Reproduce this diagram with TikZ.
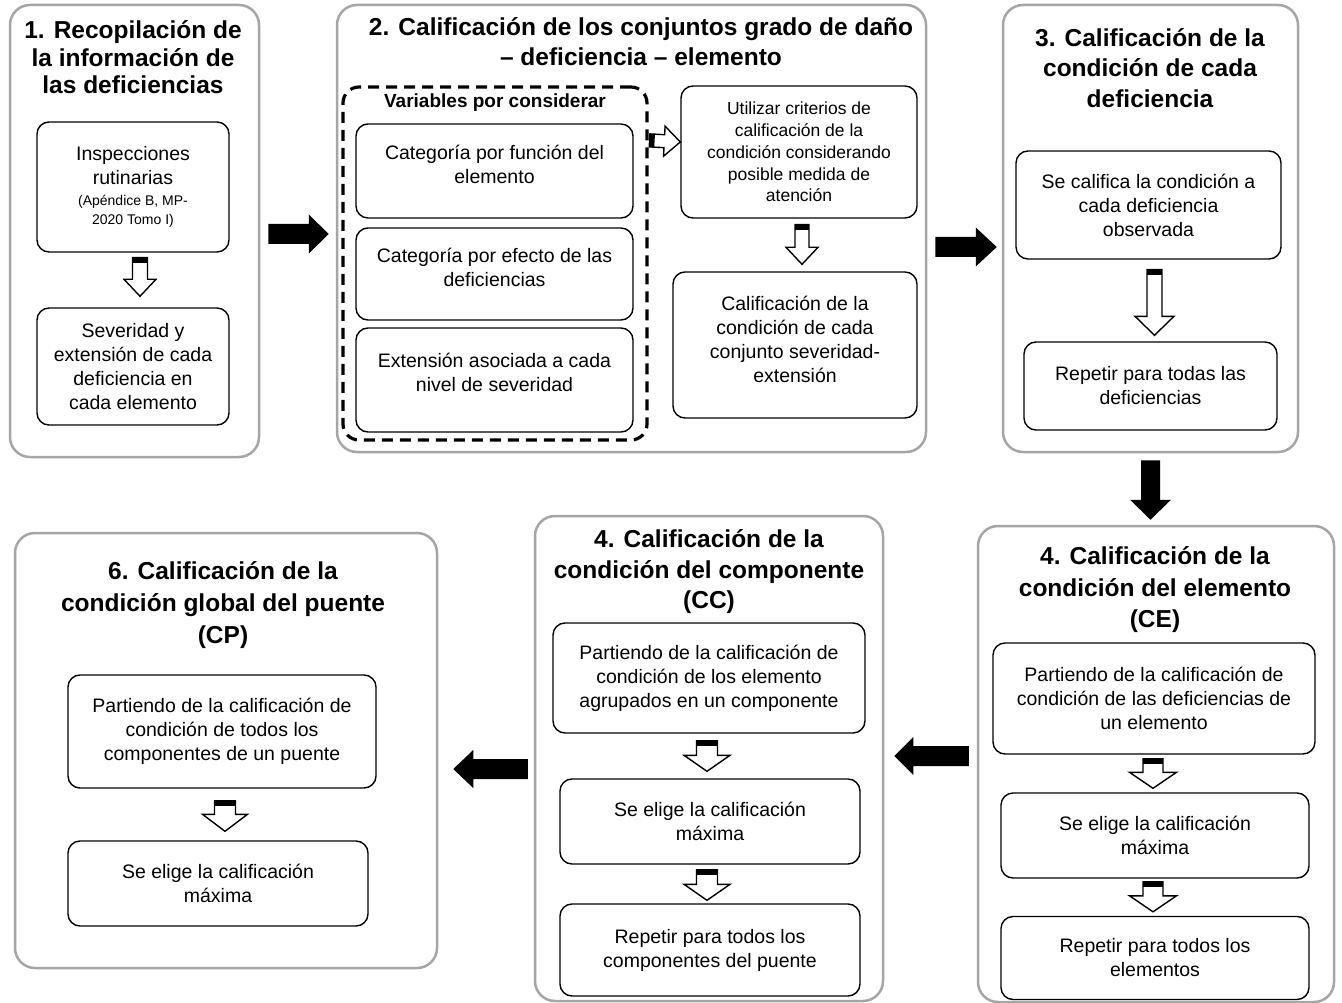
\documentclass[tikz,border=0pt]{standalone}
\usepackage{fontspec}
\setmainfont{Liberation Sans}
\usetikzlibrary{calc}
\newcommand\bodyfont{\fontsize{19.5}{24}\selectfont}
\newcommand\titlefont{\fontsize{24.5}{29}\selectfont\bfseries}
\newcommand\smallfont{\fontsize{14}{18}\selectfont}
\tikzset{
  panel/.style={draw=black!35, line width=2.5pt, rounded corners=20pt, inner sep=0pt},
  box/.style={draw=black, line width=1.4pt, rounded corners=12pt, inner sep=0pt, align=center, font=\bodyfont},
  ttl/.style={align=center, font=\titlefont, inner sep=0pt},
  hollow/.style={draw=black, line width=1.4pt, fill=white, line join=miter},
  solidarrow/.style={fill=black},
  dashbox/.style={draw=black, line width=3.2pt, dash pattern=on 11pt off 7pt, rounded corners=16pt, inner sep=0pt},
}
% #1 style, #2 tail, #3 tip, #4 shaft half width, #5 head half width, #6 head length
\newcommand\blockarrow[6]{%
  \coordinate (bah) at ($(#3)!#6!(#2)$);
  \path[#1] ($(#2)!#4!90:(#3)$) -- ($(bah)!#4!90:(#3)$) -- ($(bah)!#5!90:(#3)$) -- (#3)
    -- ($(bah)!#5!-90:(#3)$) -- ($(bah)!#4!-90:(#3)$) -- ($(#2)!#4!-90:(#3)$) -- cycle;
}
% #1 tail, #2 tip, #3 shaft half width, #4 head half width, #5 head length
\newcommand\hollowarrow[5]{%
  \blockarrow{hollow}{#1}{#2}{#3}{#4}{#5}
  \coordinate (hab) at ($(#1)!5pt!(#2)$);
  \fill ($(#1)!#3!90:(#2)$) -- ($(#1)!#3!-90:(#2)$) -- ($(hab)!#3!-90:(#2)$) -- ($(hab)!#3!90:(#2)$) -- cycle;
}
\begin{document}
\begin{tikzpicture}[x=1pt,y=-1pt]
\useasboundingbox[fill=white] (0,0) rectangle (1342,1003);

% ---------- panels ----------
\node[panel, minimum width=249, minimum height=452] (p1) at (134.5,231) {};
\node[panel, minimum width=589, minimum height=447] (p2) at (631.5,228.5) {};
\node[panel, minimum width=295, minimum height=447] (p3) at (1150.5,228.5) {};
\node[panel, minimum width=422, minimum height=435] (pcp) at (226,750.5) {};
\node[panel, minimum width=348, minimum height=485] (pcc) at (709,758.5) {};
\node[panel, minimum width=356, minimum height=476] (pce) at (1156,764) {};

% ---------- panel 1 ----------
\node[ttl, font=\fontsize{24.5}{27.5}\selectfont\bfseries] (t1) at (133,57.5) {1. Recopilación de\\la información de\\las deficiencias};
\node[box, minimum width=192, minimum height=130] (b11) at (133,187)
  {Inspecciones\\rutinarias\\[-3pt]{\smallfont(Apéndice B, MP-}\\[-5pt]{\smallfont 2020 Tomo I)}};
\node[box, minimum width=192, minimum height=117] (b12) at (133,366.5)
  {Severidad y\\extensión de cada\\deficiencia en\\cada elemento};

% ---------- panel 2 ----------
\node[ttl, font=\fontsize{24.5}{30}\selectfont\bfseries] (t2) at (641,42) {2. Calificación de los conjuntos grado de daño\\– deficiencia – elemento};
\node[dashbox, minimum width=304, minimum height=353] (dbox) at (495,263.5) {};
\node[font=\fontsize{19}{24}\selectfont\bfseries, inner sep=0pt] (vt) at (495,103) {Variables por considerar};
\node[box, minimum width=277, minimum height=94,
  label={[align=center,font=\bodyfont,yshift=7pt]center:Categoría por función del\\elemento}] (ba) at (494.5,171) {};
\node[box, minimum width=277, minimum height=92,
  label={[align=center,font=\bodyfont,yshift=7pt]center:Categoría por efecto de las\\deficiencias}] (bb) at (494.5,274) {};
\node[box, minimum width=277, minimum height=104,
  label={[align=center,font=\bodyfont,yshift=8pt]center:Extensión asociada a cada\\nivel de severidad}] (bc) at (494.5,380) {};
\node[box, minimum width=236, minimum height=132, font=\fontsize{17.5}{21.8}\selectfont] (bd) at (799,152)
  {Utilizar criterios de\\calificación de la\\condición considerando\\posible medida de\\atención};
\node[box, minimum width=244, minimum height=146,
  label={[align=center,font=\bodyfont,yshift=6pt]center:Calificación de la\\condición de cada\\conjunto severidad-\\extensión}] (be) at (795,345) {};

% ---------- panel 3 ----------
\node[ttl, font=\fontsize{24.5}{30.5}\selectfont\bfseries] (t3) at (1150,68) {3. Calificación de la\\condición de cada\\deficiencia};
\node[box, minimum width=265, minimum height=108] (b31) at (1148.5,205)
  {Se califica la condición a\\cada deficiencia\\observada};
\node[box, minimum width=253, minimum height=88] (b32) at (1150.5,386)
  {Repetir para todas las\\deficiencias};

% ---------- panel CE ----------
\node[ttl, font=\fontsize{24.5}{31.5}\selectfont\bfseries] (tce) at (1155,590) {4. Calificación de la\\condición del elemento\\(CE)};
\node[box, minimum width=322, minimum height=111] (bce1) at (1154,698.5)
  {Partiendo de la calificación de\\condición de las deficiencias de\\un elemento};
\node[box, minimum width=308, minimum height=85] (bce2) at (1155,835.5)
  {Se elige la calificación\\máxima};
\node[box, minimum width=308, minimum height=83] (bce3) at (1155,958)
  {Repetir para todos los\\elementos};

% ---------- panel CC ----------
\node[ttl, font=\fontsize{24.5}{30.5}\selectfont\bfseries] (tcc) at (709,572) {4. Calificación de la\\condición del componente\\(CC)};
\node[box, minimum width=312, minimum height=110] (bcc1) at (709,678)
  {Partiendo de la calificación de\\condición de los elemento\\agrupados en un componente};
\node[box, minimum width=300, minimum height=85] (bcc2) at (710,821.5)
  {Se elige la calificación\\máxima};
\node[box, minimum width=300, minimum height=92] (bcc3) at (710,950)
  {Repetir para todos los\\componentes del puente};

% ---------- panel CP ----------
\node[ttl, font=\fontsize{24.5}{32}\selectfont\bfseries] (tcp) at (223,605) {6. Calificación de la\\condición global del puente\\(CP)};
\node[box, minimum width=308, minimum height=113] (bcp1) at (222,731.5)
  {Partiendo de la calificación de\\condición de todos los\\componentes de un puente};
\node[box, minimum width=300, minimum height=85] (bcp2) at (218,883.5)
  {Se elige la calificación\\máxima};

% ---------- hollow arrows inside panels ----------
\hollowarrow{$(b11.south)+(7,5)$}{$(b12.north)+(7,-11)$}{7.5pt}{16pt}{17pt}
\hollowarrow{$(dbox.north east)+(1,55)$}{$(bd.west)+(0,-10)$}{6.5pt}{15pt}{16pt}
\hollowarrow{$(bd.south)+(3,6)$}{$(be.north)+(7,-7)$}{7pt}{16pt}{17pt}
\hollowarrow{$(b31.south)+(6,10)$}{$(b32.north)+(4,-6)$}{7.5pt}{19.5pt}{19pt}
\hollowarrow{$(bce1.south)+(-1,4)$}{$(bce2.north)+(-2,-4)$}{10pt}{23.5pt}{16pt}
\hollowarrow{$(bce2.south)+(-2,3)$}{$(bce3.north)+(-2,-4)$}{10pt}{23.5pt}{16pt}
\hollowarrow{$(bcc1.south)+(-2,7)$}{$(bcc2.north)+(-3,-7)$}{10.5pt}{23pt}{16pt}
\hollowarrow{$(bcc2.south)+(-3,5)$}{$(bcc3.north)+(-3,-3)$}{10.5pt}{23pt}{16pt}
\hollowarrow{$(bcp1.south)+(3,12)$}{$(bcp2.north)+(7,-9)$}{10.5pt}{22.5pt}{17pt}

% ---------- black arrows between panels ----------
\blockarrow{solidarrow}{$(p1.east)+(8,3)$}{$(p2.west)+(-7,5.5)$}{10pt}{19.5pt}{20pt}
\blockarrow{solidarrow}{$(p2.east)+(8,18.5)$}{$(p3.west)+(-5,18.5)$}{10pt}{19.5pt}{21pt}
\blockarrow{solidarrow}{$(p3.south)+(0,7)$}{$(pce.north)+(-5.5,-5)$}{9.5pt}{20.5pt}{20pt}
\blockarrow{solidarrow}{$(pce.west)+(-8,-8)$}{$(pcc.east)+(10,-2.5)$}{10pt}{19pt}{19pt}
\blockarrow{solidarrow}{$(pcc.west)+(-6,10.5)$}{$(pcp.east)+(15,18.5)$}{10pt}{19pt}{20pt}
\end{tikzpicture}
\end{document}
